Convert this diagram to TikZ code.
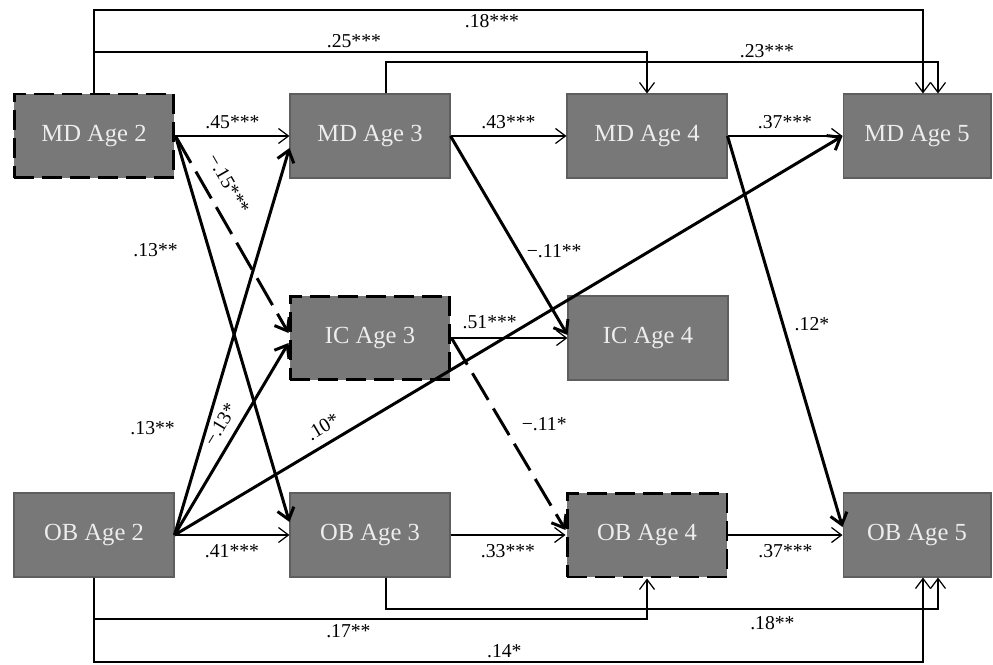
\documentclass[tikz,border=0pt]{standalone}
\usepackage{fontspec}
\setmainfont{Liberation Serif}
\usetikzlibrary{arrows.meta, positioning, calc}

\definecolor{boxgray}{HTML}{787878}
\definecolor{boxedge}{HTML}{5E5E5E}
\definecolor{boxtext}{HTML}{EDEDED}

\begin{document}
\begin{tikzpicture}[x=0.02cm, y=-0.02cm,
    var/.style={rectangle, fill=boxgray, draw=boxedge, line width=0.6pt, text=boxtext,
      minimum width=3.2cm, minimum height=1.68cm, inner sep=0pt, font=\fontsize{14}{16}\selectfont},
    dashvar/.style={var, draw=black, line width=1.7pt, dash pattern=on 0.4cm off 0.16cm},
    lab/.style={font=\fontsize{11.2}{13}\selectfont, inner sep=1pt},
    thin path/.style={line width=0.7pt, -{Straight Barb[length=0.2cm, width=0.3cm]}},
    thick path/.style={line width=1.7pt, -{Straight Barb[length=0.22cm, width=0.34cm]}},
    dashed path/.style={thick path, dash pattern=on 0.62cm off 0.2cm}]
  \useasboundingbox (0,0) rectangle (993,665);

  % Variables
  \node[dashvar] (md2) at (94,136) {MD Age 2};
  \node[var] (md3) at (370,136) {MD Age 3};
  \node[var] (md4) at (647,136) {MD Age 4};
  \node[var, minimum width=2.96cm] (md5) at (917,136) {MD Age 5};
  \node[dashvar] (ic3) at (370,338) {IC Age 3};
  \node[var] (ic4) at (648,338) {IC Age 4};
  \node[var] (ob2) at (94,535) {OB Age 2};
  \node[var] (ob3) at (370,535) {OB Age 3};
  \node[dashvar] (ob4) at (647,535) {OB Age 4};
  \node[var, minimum width=2.96cm] (ob5) at (917,535) {OB Age 5};

  % Rails for the long paths
  \coordinate (r1) at (0,10);
  \coordinate (r2) at (0,52);
  \coordinate (r3) at (0,62);
  \coordinate (r4) at (0,609);
  \coordinate (r5) at (0,619);
  \coordinate (r6) at (0,662);
  \coordinate (md3a) at ($(md3.north)+(16,0)$);
  \coordinate (md5a) at ($(md5.north)+(6,0)$);
  \coordinate (md5b) at ($(md5.north)+(21,0)$);
  \coordinate (ob3a) at ($(ob3.south)+(16,0)$);
  \coordinate (ob5a) at ($(ob5.south)+(6,0)$);
  \coordinate (ob5b) at ($(ob5.south)+(21,0)$);

  % Stability paths
  \draw[thin path] (md2) -- (md3) node[lab, midway, above=3pt] {.45***};
  \draw[thin path] (md3) -- (md4) node[lab, midway, above=3pt] {.43***};
  \draw[thin path] (md4) -- (md5) node[lab, midway, above=3pt] {.37***};
  \draw[thin path] (ic3) -- (ic4) node[lab, pos=0.33, above=4pt] {.51***};
  \draw[thin path] (ob2) -- (ob3) node[lab, midway, below=4pt] {.41***};
  \draw[thin path] (ob3) -- (ob4) node[lab, midway, below=4pt] {.33***};
  \draw[thin path] (ob4) -- (ob5) node[lab, midway, below=4pt] {.37***};

  % Long paths above
  \draw[thin path] (md2.north) -- (md2.north |- r1)
    -- node[lab, pos=0.48, below=1pt] {.18***} (md5a |- r1) -- (md5a);
  \draw[thin path] (md2.north) -- (md2.north |- r2)
    -- node[lab, pos=0.47, above=1pt] {.25***} (md4.north |- r2) -- (md4.north);
  \draw[thin path] (md3a) -- (md3a |- r3)
    -- node[lab, pos=0.69, above=1pt] {.23***} (md5b |- r3) -- (md5b);

  % Long paths below
  \draw[thin path] (ob2.south) -- (ob2.south |- r5)
    -- node[lab, pos=0.46, below=2pt] {.17**} (ob4.south |- r5) -- (ob4.south);
  \draw[thin path] (ob2.south) -- (ob2.south |- r6)
    -- node[lab, pos=0.495, above=1pt] {.14*} (ob5a |- r6) -- (ob5a);
  \draw[thin path] (ob3a) -- (ob3a |- r4)
    -- node[lab, pos=0.7, below=3pt] {.18**} (ob5b |- r4) -- (ob5b);

  % Cross-lagged paths
  \draw[thick path] (md2.east) -- node[lab, pos=0.295, left=16pt] {.13**} ($(ob3.west)+(0,-13)$);
  \draw[dashed path] (md2.east) -- node[lab, pos=0.30, sloped, above=7pt] {−.15***} ($(ic3.west)+(0,-5)$);
  \draw[thick path] (ob2.east) -- node[lab, pos=0.275, left=16pt] {.13**} ($(md3.west)+(0,12)$);
  \draw[thick path] (ob2.east) -- node[lab, pos=0.53, sloped, above=4pt] {−.13*} ($(ic3.west)+(0,5)$);
  \draw[thick path] (ob2.east) -- node[lab, pos=0.235, sloped, above=4pt] {.10*} (md5.west);
  \draw[thick path] (md3.east) -- node[lab, pos=0.58, right=3pt] {−.11**} ($(ic4.west)+(0,-3)$);
  \draw[thick path] (md4.east) -- node[lab, pos=0.48, right=5pt] {.12*} ($(ob5.west)+(0,-8)$);
  \draw[dashed path] (ic3.east) -- node[lab, pos=0.45, right=9pt] {−.11*} ($(ob4.west)+(0,-5)$);
\end{tikzpicture}
\end{document}
